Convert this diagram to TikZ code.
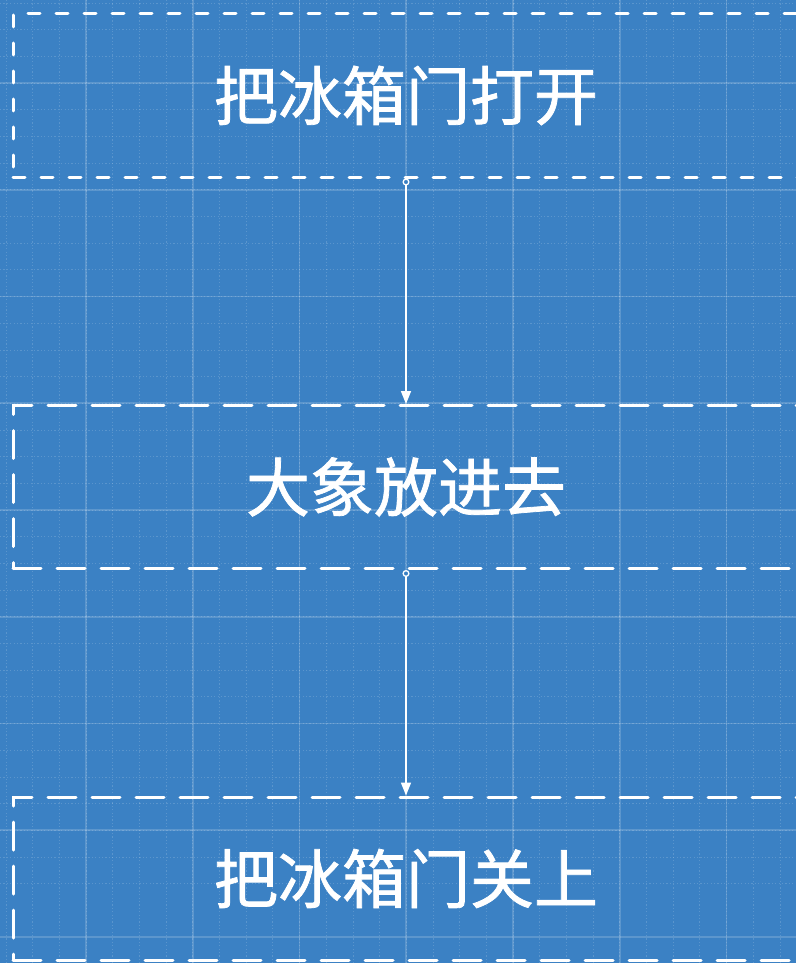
\documentclass[tikz,border=0pt]{standalone}
\usepackage{fontspec}
\newfontfamily\cjk[FakeBold=1.2]{Noto Sans CJK SC}
\usetikzlibrary{arrows.meta}
\definecolor{bp}{HTML}{3B81C4}
\tikzset{
  stepbox/.style={draw=white, line width=3pt, line cap=round, minimum width=786pt,
    minimum height=163pt, inner sep=0pt, text=white, font=\cjk\fontsize{64}{72}\selectfont},
  shortdash/.style={dash pattern=on 12pt off 16pt},
  longdash/.style={dash pattern=on 28pt off 16pt},
  conn/.style={draw=white, line width=1.6pt, {Circle[open,length=7pt,width=7pt,line width=1.3pt,fill=bp]}-{Triangle[length=13pt,width=10pt]}},
  minorline/.style={white, opacity=0.16, line width=0.8pt, dash pattern=on 1.2pt off 2.2pt},
  majorline/.style={white, opacity=0.17, line width=1.6pt}
}
\begin{document}
\begin{tikzpicture}[x=1pt,y=-1pt]
\useasboundingbox (0,0) rectangle (796,963);
\clip (0,0) rectangle (796,963);
\fill[bp] (0,0) rectangle (796,963);
% minor grid
\foreach \i in {-3,...,30} {
  \draw[minorline] ({86+\i*26.69},0) -- ({86+\i*26.69},963);
  \draw[minorline] (0,{83+\i*26.69}) -- (796,{83+\i*26.69});
}
% major grid
\foreach \i in {-1,...,8} {
  \draw[majorline] ({86+\i*106.75},0) -- ({86+\i*106.75},963);
  \draw[majorline] (0,{83+\i*106.75}) -- (796,{83+\i*106.75});
}
\node[stepbox, shortdash] (b1) at (406,95.5) {把冰箱门打开};
\node[stepbox, longdash] (b2) at (406,487) {大象放进去};
\node[stepbox, longdash] (b3) at (406,878.5) {把冰箱门关上};
\draw[conn] (b1.south) -- (b2.north);
\draw[conn] (b2.south) -- (b3.north);
\end{tikzpicture}
\end{document}
